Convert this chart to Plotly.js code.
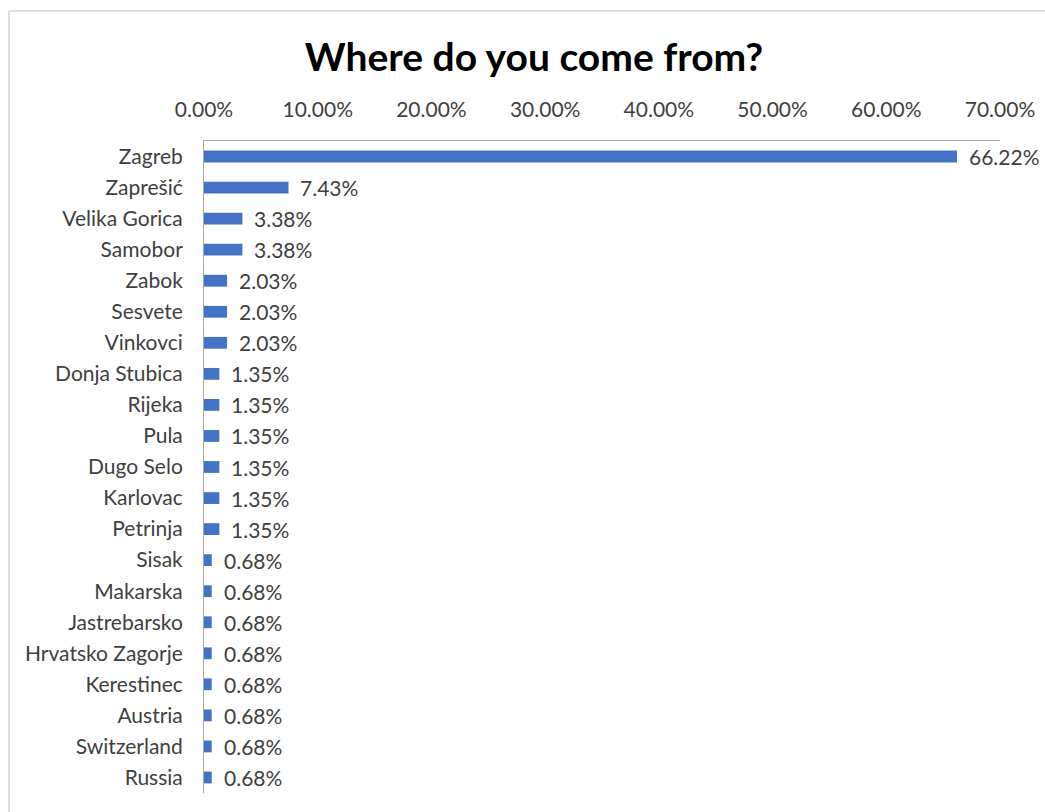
<!DOCTYPE html>
<html>
<head>
<meta charset="utf-8">
<script src="https://cdn.plot.ly/plotly-3.0.1.min.js"></script>
<style>html,body{margin:0;padding:0;background:#fff;}#chart{width:1045px;height:812px;}</style>
</head>
<body>
<div id="chart"></div>
<script>
const categories = ["Zagreb","Zaprešić","Velika Gorica","Samobor","Zabok","Sesvete","Vinkovci","Donja Stubica","Rijeka","Pula","Dugo Selo","Karlovac","Petrinja","Sisak","Makarska","Jastrebarsko","Hrvatsko Zagorje","Kerestinec","Austria","Switzerland","Russia"];
const values = [0.6622,0.0743,0.0338,0.0338,0.0203,0.0203,0.0203,0.0135,0.0135,0.0135,0.0135,0.0135,0.0135,0.0068,0.0068,0.0068,0.0068,0.0068,0.0068,0.0068,0.0068];
const tickVals = [0,0.1,0.2,0.3,0.4,0.5,0.6,0.7];
const tickText = ["0.00%","10.00%","20.00%","30.00%","40.00%","50.00%","60.00%","70.00%"];
const titleText = "Where do you come from?";

const font = "Lato, 'Open Sans', sans-serif";
const annotations = categories.map((c,i)=>({
  x: values[i], y: c, xref:'x', yref:'y', text: (values[i]*100).toFixed(2)+'%',
  showarrow:false, xanchor:'left', xshift:10, font:{family:font,size:21,color:'#404040'}
}));

const trace = {
  type:'bar', orientation:'h', x: values, y: categories,
  marker:{color:'#4472C4'}, width:0.38, hoverinfo:'none'
};
const layout = {
  width:1045, height:812,
  margin:{l:204, r:45, t:141, b:19},
  paper_bgcolor:'#fff', plot_bgcolor:'#fff',
  showlegend:false,
  title:{text:titleText, font:{family:font,size:39,color:'#000',weight:'bold'}, x:534/1045, xref:'container', xanchor:'center', y:1-57/812, yref:'container', yanchor:'middle'},
  xaxis:{side:'top', range:[0,0.7], tickvals:tickVals, ticktext:tickText, showgrid:false, zeroline:false,
    showline:true, linecolor:'#A6A6A6', linewidth:1, ticks:'', ticklabelstandoff:15,
    tickfont:{family:font,size:21,color:'#404040'}},
  yaxis:{autorange:'reversed', showgrid:false, zeroline:false, showline:true, linecolor:'#A6A6A6', linewidth:1,
    ticks:'', ticklabelstandoff:16, tickfont:{family:font,size:21,color:'#404040'}},
  annotations: annotations,
  shapes:[{type:'rect', xref:'paper', yref:'paper', x0:-195/796, x1:1.2, y0:-0.2, y1:1+130/652,
    line:{color:'#BFBFBF', width:1}, fillcolor:'rgba(0,0,0,0)', layer:'below'}]
};
Plotly.newPlot('chart',[trace],layout,{displayModeBar:false,staticPlot:true});
</script>
</body>
</html>
